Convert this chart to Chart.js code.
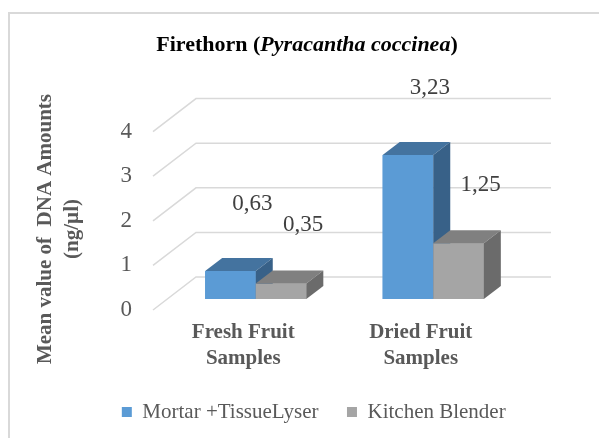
<!DOCTYPE html>
<html>
<head>
<meta charset="utf-8">
<script src="https://cdn.jsdelivr.net/npm/chart.js@4.4.0/dist/chart.umd.min.js"></script>
<style>
html, body { margin: 0; padding: 0; background: #fff; }
</style>
</head>
<body>
<canvas id="myChart" width="599" height="438"></canvas>
<script>
let categories = [['Fresh Fruit', 'Samples'], ['Dried Fruit', 'Samples']];
let seriesNames = ['Mortar +TissueLyser', 'Kitchen Blender'];
let mortarValues = [0.63, 3.23];
let blenderValues = [0.35, 1.25];
let yTicks = [0, 1, 2, 3, 4];

let serif = "'Liberation Serif', 'Times New Roman', serif";

// colours of the three visible faces of each 3D bar
let faces = [
    { front: '#5b9bd5', top: '#44739f', side: '#386188' },
    { front: '#a5a5a5', top: '#808080', side: '#6b6b6b' }
];
let labelDy = [-67, -58];

// oblique 3D offsets
let barDepth = { dx: 17, dy: -13 };
let wallBack = { dx: 29, dy: -22 };
let wallFront = { dx: -14, dy: 11 };

function poly(ctx, pts, color) {
    ctx.beginPath();
    ctx.moveTo(pts[0][0], pts[0][1]);
    for (let i = 1; i < pts.length; i++) ctx.lineTo(pts[i][0], pts[i][1]);
    ctx.closePath();
    ctx.fillStyle = color;
    ctx.fill();
}

let chart3d = {
    id: 'chart3d',
    beforeDraw(chart) {
        let ctx = chart.ctx;
        ctx.save();
        ctx.strokeStyle = '#d9d9d9';
        ctx.lineWidth = 2;
        ctx.strokeRect(9, 13, 640, 480);

        // title with italic species name
        let parts = [
            { t: 'Firethorn (', f: 'bold 22px ' + serif },
            { t: 'Pyracantha coccinea', f: 'italic bold 22px ' + serif },
            { t: ')', f: 'bold 22px ' + serif }
        ];
        let total = 0;
        parts.forEach(p => { ctx.font = p.f; p.w = ctx.measureText(p.t).width; total += p.w; });
        let x = 307 - total / 2;
        ctx.fillStyle = '#000';
        ctx.textBaseline = 'middle';
        ctx.textAlign = 'left';
        parts.forEach(p => { ctx.font = p.f; ctx.fillText(p.t, x, 45); x += p.w; });

        // y axis title
        ctx.font = 'bold 21px ' + serif;
        ctx.fillStyle = '#595959';
        ctx.textAlign = 'center';
        ctx.translate(46, 229);
        ctx.rotate(-Math.PI / 2);
        ctx.fillText('Mean value of  DNA Amounts', 0, 0);
        ctx.fillText('(ng/\u00b5l)', 0, 27);
        ctx.restore();
    },
    beforeDatasetsDraw(chart) {
        let ctx = chart.ctx;
        let area = chart.chartArea;
        let y = chart.scales.y;
        ctx.save();
        ctx.strokeStyle = '#d9d9d9';
        ctx.lineWidth = 1.5;
        yTicks.forEach(v => {
            let py = y.getPixelForValue(v);
            ctx.beginPath();
            ctx.moveTo(area.left + wallFront.dx, py + wallFront.dy);
            ctx.lineTo(area.left + wallBack.dx, py + wallBack.dy);
            ctx.lineTo(area.right + wallBack.dx, py + wallBack.dy);
            ctx.stroke();
        });
        ctx.restore();
    },
    afterDatasetsDraw(chart) {
        let ctx = chart.ctx;
        let dx = barDepth.dx, dy = barDepth.dy;
        ctx.save();
        for (let i = 0; i < chart.data.labels.length; i++) {
            chart.data.datasets.forEach((ds, d) => {
                let bar = chart.getDatasetMeta(d).data[i];
                let p = bar.getProps(['x', 'y', 'base', 'width'], true);
                let l = p.x - p.width / 2, r = p.x + p.width / 2;
                poly(ctx, [[l, p.y], [r, p.y], [r, p.base], [l, p.base]], faces[d].front);
                poly(ctx, [[l, p.y], [r, p.y], [r + dx, p.y + dy], [l + dx, p.y + dy]], faces[d].top);
                poly(ctx, [[r, p.y], [r + dx, p.y + dy], [r + dx, p.base + dy], [r, p.base]], faces[d].side);
            });
        }
        ctx.font = '23px ' + serif;
        ctx.fillStyle = '#404040';
        ctx.textAlign = 'center';
        ctx.textBaseline = 'middle';
        chart.data.datasets.forEach((ds, d) => {
            chart.getDatasetMeta(d).data.forEach((bar, i) => {
                let txt = ds.data[i].toFixed(2).replace('.', ',');
                ctx.fillText(txt, bar.x + 22, bar.y + labelDy[d]);
            });
        });
        ctx.restore();
    }
};

let ctx = document.getElementById('myChart').getContext('2d');

let myChart = new Chart(ctx, {
    type: 'bar',
    data: {
        labels: categories,
        datasets: [{
            label: seriesNames[0],
            data: mortarValues,
            backgroundColor: faces[0].front,
            borderWidth: 0
        }, {
            label: seriesNames[1],
            data: blenderValues,
            backgroundColor: faces[1].front,
            borderWidth: 0
        }]
    },
    options: {
        responsive: false,
        animation: false,
        categoryPercentage: 0.57,
        barPercentage: 1,
        layout: {
            padding: { left: 28.5, right: 0, top: 120.6, bottom: 5.5 }
        },
        scales: {
            x: {
                grid: { display: false, drawTicks: false },
                border: { display: false },
                ticks: {
                    color: '#595959',
                    font: { family: serif, size: 21, weight: 'bold', lineHeight: 1.24 },
                    labelOffset: -12.5,
                    padding: 21,
                    maxRotation: 0
                },
                afterFit: s => { s.height = 74; }
            },
            y: {
                min: 0,
                max: 4,
                grid: { display: false, drawTicks: false },
                border: { display: false },
                ticks: {
                    stepSize: 1,
                    color: '#595959',
                    font: { family: serif, size: 23 },
                    labelOffset: 11,
                    padding: 35
                },
                afterFit: s => { s.width = 138.5; }
            },
            yRight: {
                type: 'linear',
                position: 'right',
                grid: { display: false, drawTicks: false },
                border: { display: false },
                ticks: { display: false },
                afterFit: s => { s.width = 77; }
            }
        },
        plugins: {
            legend: {
                position: 'bottom',
                labels: {
                    color: '#595959',
                    font: { family: serif, size: 21 },
                    boxWidth: 10,
                    boxHeight: 10,
                    padding: 28.5
                }
            },
            tooltip: { enabled: false }
        }
    },
    plugins: [chart3d]
});
</script>
</body>
</html>
